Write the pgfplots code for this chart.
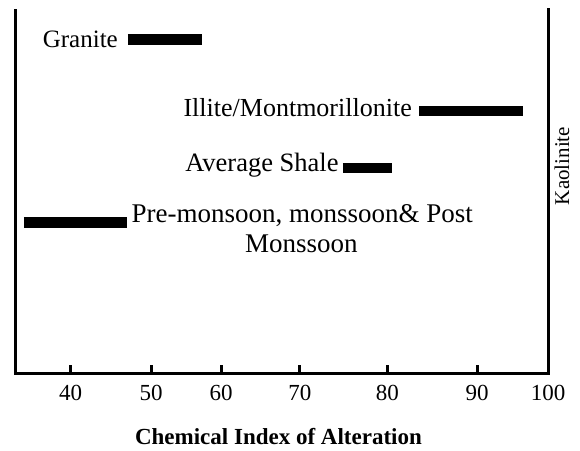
\documentclass[border=0pt]{standalone}
\usepackage{fontspec}
\setmainfont{Liberation Serif}
\usepackage{pgfplots}
\pgfplotsset{compat=1.18}
\begin{document}
\begin{tikzpicture}
\path[use as bounding box] (-15pt,-77pt) rectangle (565pt,373pt);
\begin{axis}[
  at={(0,0)}, anchor=south west,
  scale only axis, width=533pt, height=365pt,
  xmin=33, xmax=100, ymin=0, ymax=100,
  axis x line*=bottom, axis y line=none,
  axis line style={draw=none},
  clip=false,
  xtick={40,50.1,58.9,68.8,79.8,91.1},
  xticklabels={40,50,60,70,80,90},
  tick align=inside,
  major tick length=8pt,
  tick style={black, line width=3pt},
  /pgf/number format/assume math mode=true,
  xticklabel style={font=\fontsize{23}{27}\selectfont, anchor=base, yshift=-27pt},
  xlabel={\textbf{Chemical Index of Alteration}},
  xlabel style={font=\fontsize{23}{27}\selectfont, at={(axis description cs:0.5,0)}, anchor=base, yshift=-71pt, xshift=-3pt},
]
% frame
\draw[black, line width=3pt, line join=miter] (rel axis cs:0,0.997) -- (rel axis cs:0,0) -- (rel axis cs:1,0) -- (rel axis cs:1,1);
\node[font=\fontsize{23}{27}\selectfont, anchor=base, yshift=-27pt] at (axis cs:100,0) {100};
% ranges
\addplot[black, line width=10.5pt] coordinates {(47.2,91.4) (56.5,91.4)};
\addplot[black, line width=10.5pt] coordinates {(83.8,71.8) (96.9,71.8)};
\addplot[black, line width=10.5pt] coordinates {(74.2,56.2) (80.4,56.2)};
\addplot[black, line width=10.5pt] coordinates {(34.1,41.2) (47.1,41.2)};
% labels
\node[font=\fontsize{25}{30}\selectfont, anchor=base east, inner sep=0pt] at (axis cs:45.95,89.3) {Granite};
\node[font=\fontsize{26}{31}\selectfont, anchor=base east, inner sep=0pt] at (axis cs:82.9,70.4) {Illite/Montmorillonite};
\node[font=\fontsize{26.5}{31}\selectfont, anchor=base east, inner sep=0pt] at (axis cs:73.7,55.1) {Average Shale};
\node[font=\fontsize{27}{32}\selectfont, anchor=base, inner sep=0pt] at (axis cs:69.1,41.1) {Pre-monsoon, monssoon\& Post};
\node[font=\fontsize{27}{32}\selectfont, anchor=base, inner sep=0pt] at (axis cs:69.0,33.15) {Monssoon};
\node[font=\fontsize{21}{25}\selectfont, rotate=90, anchor=base, inner sep=0pt] at (axis cs:102.65,56.7) {Kaolinite};
\end{axis}
\end{tikzpicture}
\end{document}
